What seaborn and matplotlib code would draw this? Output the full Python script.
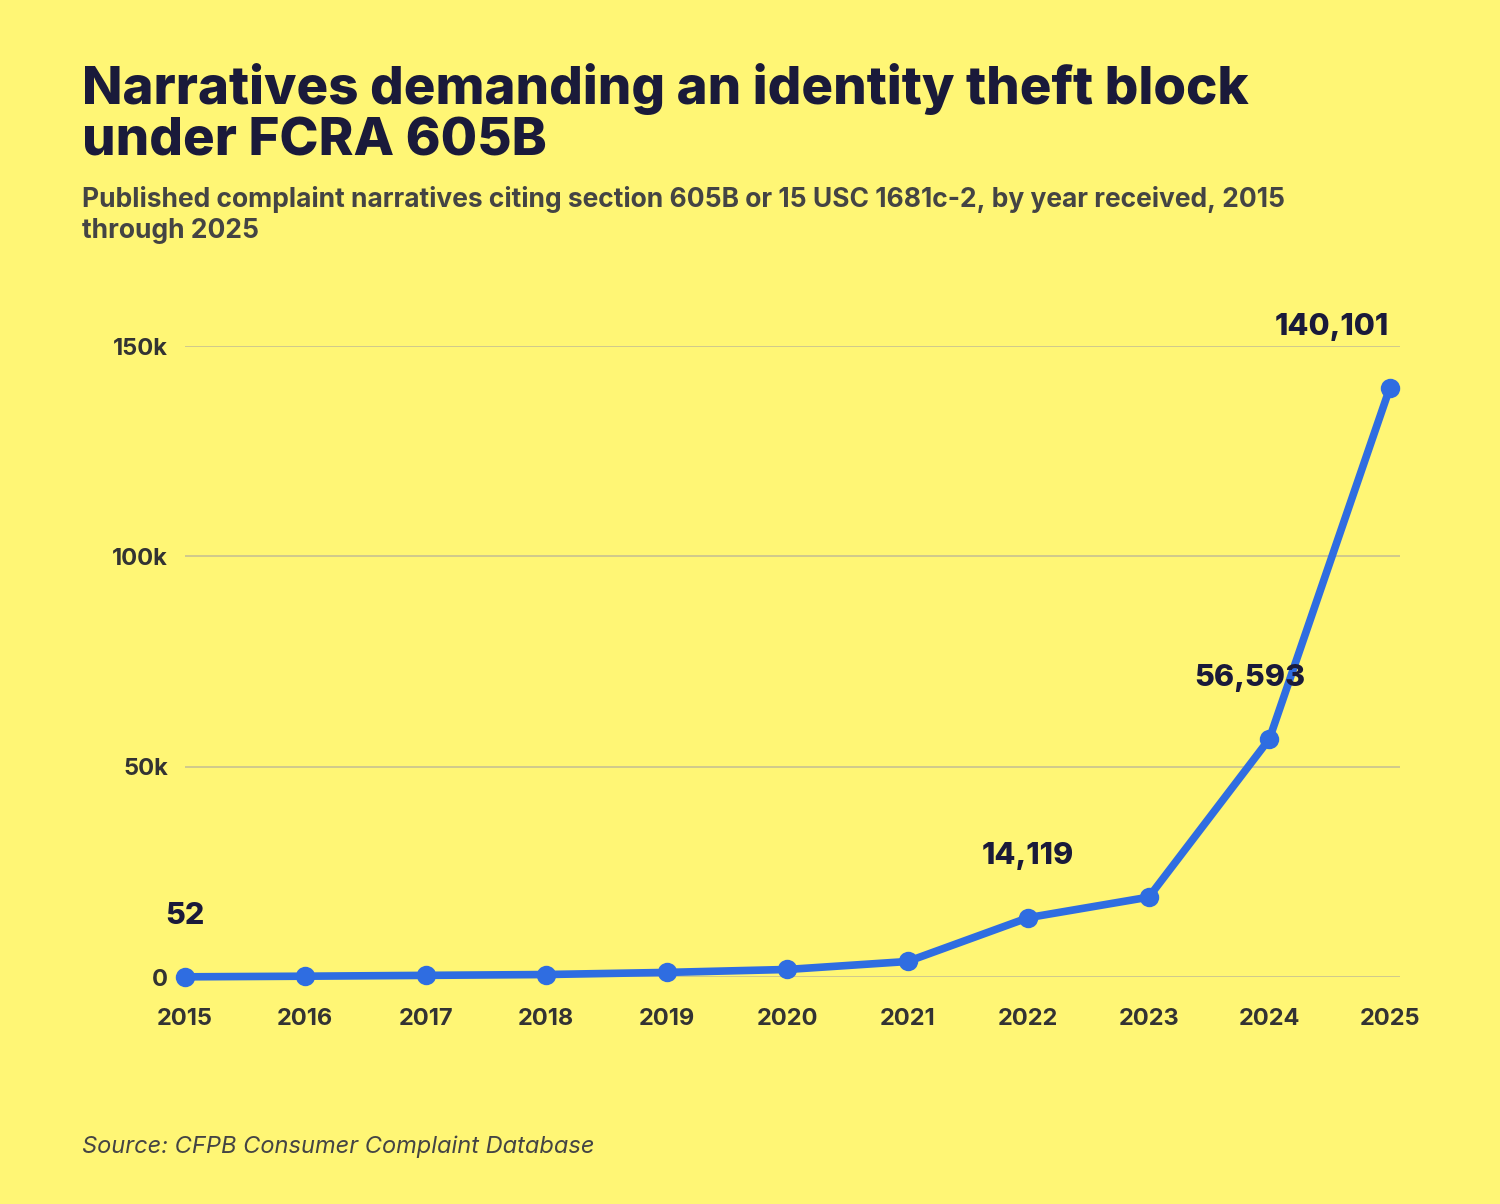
import matplotlib
matplotlib.use("Agg")
import matplotlib.pyplot as plt
import seaborn as sns
import pandas as pd

years = [2015, 2016, 2017, 2018, 2019, 2020, 2021, 2022, 2023, 2024, 2025]
counts = [52, 200, 400, 600, 1100, 1800, 3700, 14119, 19000, 56593, 140101]
labeled = {2015: "52", 2022: "14,119", 2024: "56,593", 2025: "140,101"}
label_shift = {2015: 0, 2022: 0, 2024: -14, 2025: -42}

bg = "#FFF675"
blue = "#2F6DE1"
ink = "#1A1A3A"

sns.set_theme(style="white")
plt.rcParams["font.family"] = ["Inter", "DejaVu Sans"]

df = pd.DataFrame({"year": years, "count": counts})

fig = plt.figure(figsize=(15, 12.04), dpi=100, facecolor=bg)
ax = fig.add_axes([0.123, 0.1885, 0.81, 0.524], facecolor=bg)
sns.lineplot(data=df, x="year", y="count", ax=ax, color=blue, linewidth=5.5,
             marker="o", markersize=14, markeredgewidth=0, clip_on=False)

ax.set_xlim(2015, 2025.08)
ax.set_ylim(0, 150000)
ax.set_yticks([0, 50000, 100000, 150000])
ax.set_yticklabels(["0", "50k", "100k", "150k"])
ax.set_xticks(years)
ax.set_xticklabels([str(y) for y in years])
ax.grid(axis="y", color="#C8C290", linewidth=1.2)
ax.set_axisbelow(True)
for s in ax.spines.values():
    s.set_visible(False)
ax.tick_params(axis="both", length=0, labelsize=17, colors="#333333", pad=12)
ax.tick_params(axis="x", pad=22)
for t in ax.get_xticklabels() + ax.get_yticklabels():
    t.set_fontweight("bold")
ax.set_xlabel("")
ax.set_ylabel("")

for y, c in zip(years, counts):
    if y in labeled:
        ax.annotate(labeled[y], (y, c), xytext=(label_shift[y], 34), textcoords="offset points",
                    ha="center", va="bottom", fontsize=22, fontweight="heavy", color=ink)

fig.text(0.055, 0.862, "Narratives demanding an identity theft block\nunder FCRA 605B",
         fontsize=38, fontweight="heavy", color=ink, va="bottom", linespacing=1.05)
fig.text(0.055, 0.797, "Published complaint narratives citing section 605B or 15 USC 1681c-2, by year received, 2015\nthrough 2025",
         fontsize=19, fontweight="bold", color="#444444", va="bottom", linespacing=1.25)
fig.text(0.055, 0.042, "Source: CFPB Consumer Complaint Database", fontsize=17,
         style="italic", color="#444444")

fig.savefig("out.png", dpi=100, facecolor=bg)
